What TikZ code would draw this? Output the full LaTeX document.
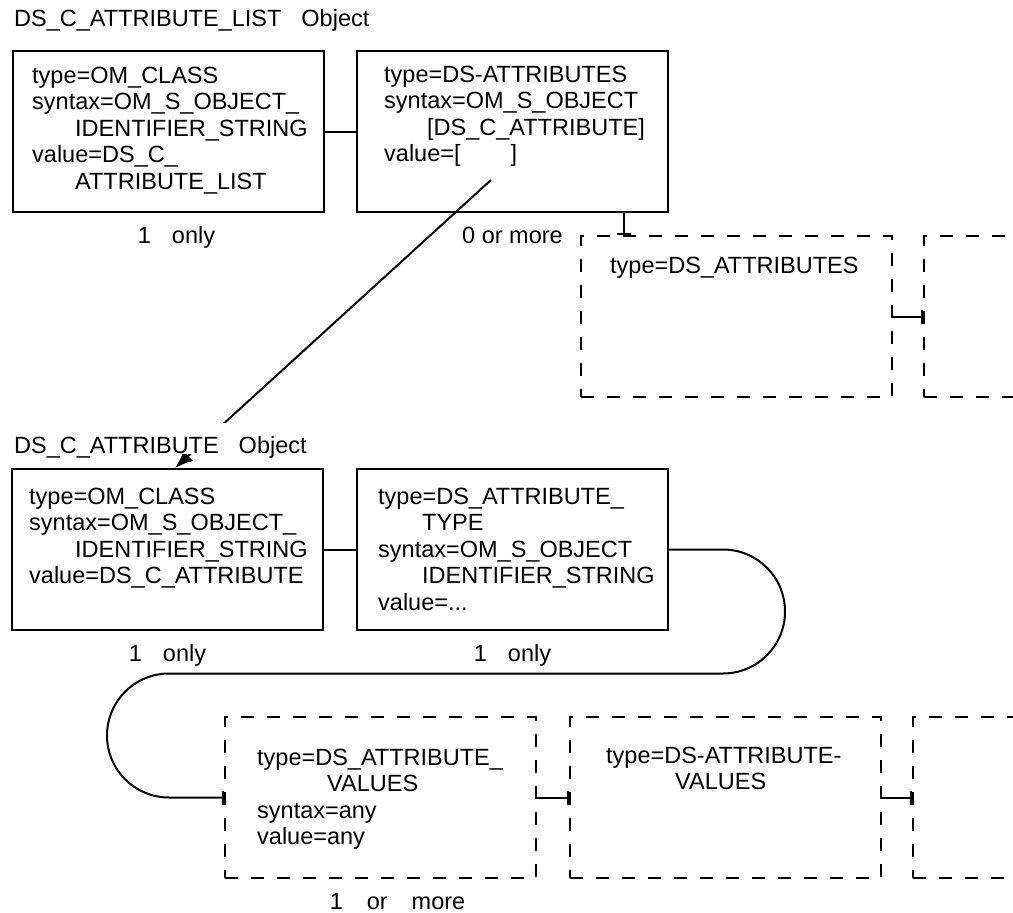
\documentclass[tikz,border=0pt]{standalone}
\usepackage{fontspec}
\setmainfont{Liberation Sans}
\usetikzlibrary{arrows.meta}

\tikzset{
  objbox/.style={draw, line width=2pt, anchor=north west, inner sep=0pt,
                 minimum width=311pt, minimum height=161pt},
  partbox/.style={objbox, dash pattern=on 13pt off 13pt},
  attr/.style={anchor=north west, align=left, inner sep=0pt},
  count/.style={anchor=base, inner sep=0pt},
  link/.style={line width=2pt},
  tick/.style={link, -{Bar[width=14pt]}}
}

\begin{document}
\begin{tikzpicture}[x=1pt, y=-1pt, font=\fontsize{23.5}{26.5}\selectfont]
  \useasboundingbox (0,0) rectangle (1013,913);
  \clip (0,0) rectangle (1013,913);

  % -- DS_C_ATTRIBUTE_LIST object
  \node[anchor=base west, inner sep=0pt] (listtitle) at (14,26)
    {DS\_C\_ATTRIBUTE\_LIST\hspace{20pt}Object};
  \node[objbox] (a1) at (12,50) {};
  \node[attr] (a1txt) at (32,66.6)
    {type=OM\_CLASS\\syntax=OM\_S\_OBJECT\_\\\hspace*{43pt}IDENTIFIER\_STRING\\
     value=DS\_C\_\\\hspace*{43pt}ATTRIBUTE\_LIST};
  \node[count] (a1n) at ([xshift=8pt,yshift=-30pt]a1.south) {1\hspace{21pt}only};

  \node[objbox] (a2) at (356,50) {};
  \node[attr] (a2txt) at (384,65.6)
    {type=DS-ATTRIBUTES\\syntax=OM\_S\_OBJECT\\\hspace*{43pt}[DS\_C\_ATTRIBUTE]\\
     value=[\hspace{50pt}]};
  \node[count] (a2n) at ([yshift=-30pt]a2.south) {0 or more};
  \draw[link] (a1.east) -- (a2.east -| a2.west);

  % -- attribute parts (dashed)
  \node[partbox] (c) at (580,235) {};
  \node[attr] (ctxt) at (610,256.6) {type=DS\_ATTRIBUTES};
  \node[partbox] (d) at (923,235) {};
  \draw[tick] ([xshift=111pt]a2.south) -- ([xshift=111pt]a2.south |- c.north);
  \draw[tick] (c.east) -- (d.west);

  % -- reference to DS_C_ATTRIBUTE
  \coordinate (valref) at (491,180);
  \coordinate (b1in) at (175,468);
  \draw[link, -{Latex[length=18pt,width=14pt]}] (valref) -- (b1in);

  % -- DS_C_ATTRIBUTE object
  \node[anchor=base west, inner sep=0pt, fill=white, text height=30pt, text depth=1pt]
    (attrtitle) at (14,453) {DS\_C\_ATTRIBUTE\hspace{20pt}Object};
  \node[objbox] (b1) at (11,468) {};
  \node[attr] (b1txt) at (29,487.6)
    {type=OM\_CLASS\\syntax=OM\_S\_OBJECT\_\\\hspace*{46pt}IDENTIFIER\_STRING\\
     value=DS\_C\_ATTRIBUTE};
  \node[count] (b1n) at ([yshift=-30pt]b1.south) {1\hspace{21pt}only};

  \node[objbox] (b2) at (356,468) {};
  \node[attr] (b2txt) at (378,487.6)
    {type=DS\_ATTRIBUTE\_\\\hspace*{44pt}TYPE\\syntax=OM\_S\_OBJECT\\
     \hspace*{44pt}IDENTIFIER\_STRING\\value=...};
  \node[count] (b2n) at ([yshift=-30pt]b2.south) {1\hspace{21pt}only};
  \draw[link] (b1.east) -- (b2.west);

  % -- values parts
  \node[partbox] (c1) at (224,716) {};
  \node[attr] (c1txt) at (257,748.6)
    {type=DS\_ATTRIBUTE\_\\\hspace*{70pt}VALUES\\syntax=any\\value=any};
  \node[count] (c1n) at ([xshift=17pt,yshift=-30pt]c1.south)
    {1\hspace{24pt}or\hspace{24pt}more};
  \node[partbox] (c2) at (569,716) {};
  \node[attr] (c2txt) at (606,746.6) {type=DS-ATTRIBUTE-\\\hspace*{69pt}VALUES};
  \node[partbox] (d2) at (912,716) {};

  % loop round to the values
  \draw[tick] (b2.east) -- ++(54,0) arc[start angle=-90, end angle=90, radius=62]
    -- ++(-554,0) arc[start angle=-90, end angle=-270, radius=62] -- (c1.west);
  \draw[tick] (c1.east) -- (c2.west);
  \draw[tick] (c2.east) -- (d2.west);
\end{tikzpicture}
\end{document}
